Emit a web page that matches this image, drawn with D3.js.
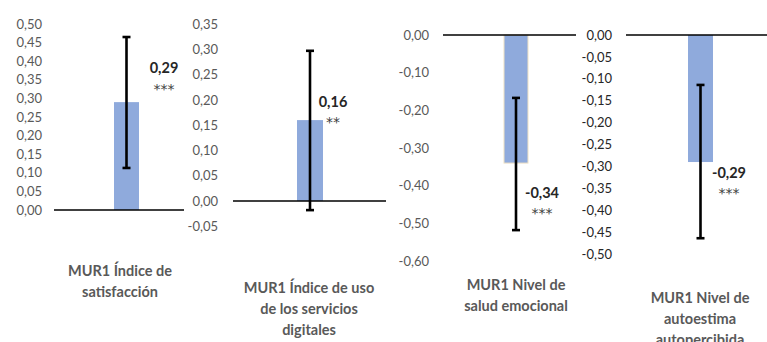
<!DOCTYPE html>
<html>
<head>
<meta charset="utf-8">
<script src="https://cdn.jsdelivr.net/npm/d3@7"></script>
<style>
  html, body { margin: 0; padding: 0; background: #fff; }
  svg { display: block; font-family: Lato, "Open Sans", sans-serif; }
</style>
</head>
<body>
<svg id="chart" width="767" height="342"></svg>
<script>
// Regression coefficients (MUR1) with 95% confidence intervals
const categories = [
  ["MUR1 Índice de", "satisfacción"],
  ["MUR1 Índice de uso", "de los servicios", "digitales"],
  ["MUR1 Nivel de", "salud emocional"],
  ["MUR1 Nivel de", "autoestima", "autopercibida"]
];
const values = [0.29, 0.16, -0.34, -0.29];
const ciLow = [0.113, -0.018, -0.518, -0.464];
const ciHigh = [0.465, 0.297, -0.167, -0.114];
const valueLabels = ["0,29", "0,16", "-0,34", "-0,29"];
const signif = ["***", "**", "***", "***"];
const yDomains = [[0, 0.5], [-0.05, 0.35], [-0.6, 0], [-0.5, 0]];
const tickSteps = [0.05, 0.05, 0.1, 0.05];

// Per-panel layout
const panels = [
  { top: 24, bottom: 210, axisX: 42, lineX: [54, 184], barC: 126.5, barW: 25,
    lab: [164, 67], sig: [164, 85], catX: 120, catY: 270, tickFill: "#595959" },
  { top: 24, bottom: 226.3, axisX: 218, lineX: [233, 386], barC: 310, barW: 26,
    lab: [333, 101], sig: [333, 118], catX: 309, catY: 287, tickFill: "#595959" },
  { top: 35, bottom: 261, axisX: 429, lineX: [443, 576], barC: 516, barW: 24,
    lab: [542, 192], sig: [542, 209], catX: 516, catY: 284, tickFill: "#595959", barStroke: "#efe2c4" },
  { top: 35, bottom: 254, axisX: 612, lineX: [626, 767], barC: 700.5, barW: 25,
    lab: [729, 172], sig: [729, 189], catX: 700, catY: 297, tickFill: "#262626" }
];

const svg = d3.select("#chart");
const fmt = v => d3.format(".2f")(v).replace("−", "-").replace(".", ",");

panels.forEach((p, i) => {
  const g = svg.append("g");
  const [d0, d1] = yDomains[i];
  const y = d3.scaleLinear().domain([d1, d0]).range([p.top, p.bottom]);

  const nTicks = Math.round((d1 - d0) / tickSteps[i]);
  const ticks = d3.range(nTicks + 1).map(k => +(d0 + k * tickSteps[i]).toFixed(2));

  const axis = d3.axisLeft(y).tickValues(ticks).tickFormat(fmt).tickSize(0).tickPadding(0);
  const ax = g.append("g").attr("transform", `translate(${p.axisX},0)`).call(axis);
  ax.select(".domain").remove();
  ax.selectAll("text")
    .attr("fill", p.tickFill)
    .style("font-size", "13px")
    .style("font-family", "Lato, sans-serif");

  const x = d3.scaleBand()
    .domain([i])
    .range([p.barC - p.barW / 2, p.barC + p.barW / 2])
    .padding(0);

  // bar
  g.append("rect")
    .attr("x", x(i))
    .attr("width", x.bandwidth())
    .attr("y", y(Math.max(0, values[i])))
    .attr("height", Math.abs(y(values[i]) - y(0)))
    .attr("fill", "#8faadc")
    .attr("stroke", p.barStroke || "none")
    .attr("stroke-width", 1);

  // zero line
  g.append("line")
    .attr("x1", p.lineX[0]).attr("x2", p.lineX[1])
    .attr("y1", y(0)).attr("y2", y(0))
    .attr("stroke", "#000").attr("stroke-width", 1.6);

  // confidence interval
  const cx = x(i) + x.bandwidth() / 2;
  const eb = g.append("g").attr("stroke", "#000").attr("stroke-width", 2.6);
  eb.append("line").attr("x1", cx).attr("x2", cx).attr("y1", y(ciHigh[i])).attr("y2", y(ciLow[i]));
  [ciHigh[i], ciLow[i]].forEach(v => {
    eb.append("line").attr("x1", cx - 4).attr("x2", cx + 4).attr("y1", y(v)).attr("y2", y(v));
  });

  // value label and significance stars
  g.append("text")
    .attr("x", p.lab[0]).attr("y", p.lab[1])
    .attr("text-anchor", "middle").attr("dominant-baseline", "central")
    .attr("fill", "#262626").style("font-weight", "bold").style("font-size", "14.5px")
    .text(valueLabels[i]);
  g.append("text")
    .attr("x", p.sig[0]).attr("y", p.sig[1] + 9)
    .attr("text-anchor", "middle")
    .attr("fill", "#404040").style("font-family", "'DejaVu Sans', sans-serif")
    .style("font-size", "14px")
    .text(signif[i]);

  // category label
  const t = g.append("text")
    .attr("text-anchor", "middle")
    .attr("fill", "#595959").style("font-weight", "bold").style("font-size", "14.5px");
  categories[i].forEach((line, k) => {
    t.append("tspan").attr("x", p.catX).attr("y", p.catY + k * 21)
      .attr("dominant-baseline", "central").text(line);
  });
});
</script>
</body>
</html>
